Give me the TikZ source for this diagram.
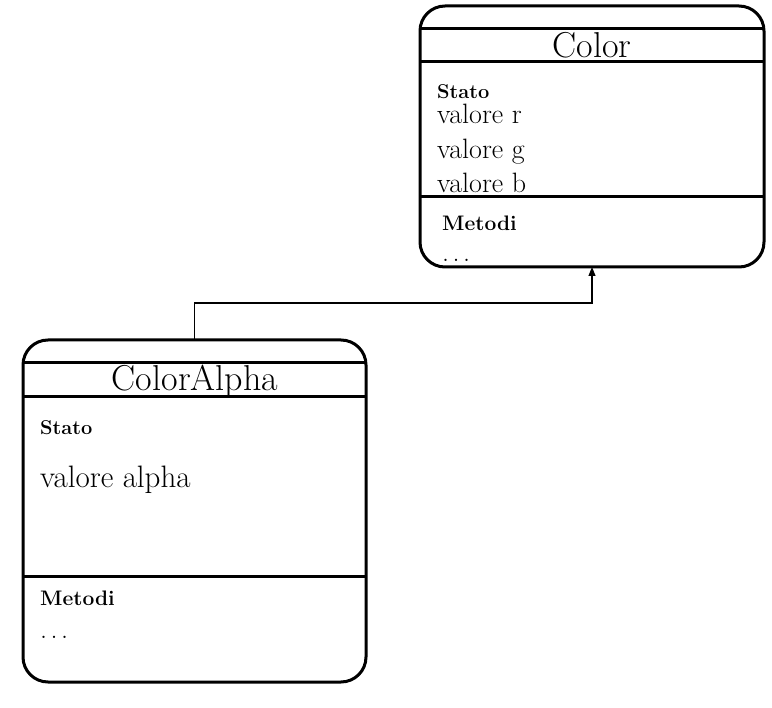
\documentclass[tikz,border=0pt]{standalone}
\usetikzlibrary{arrows.meta}
\begin{document}
\begin{tikzpicture}[x=1pt,y=-1pt,
  classbox/.style={draw, line width=3pt, rounded corners=25pt, inner sep=0pt, outer sep=0pt},
  sep/.style={line width=3pt},
  title/.style={anchor=base, inner sep=0pt, font=\fontsize{36}{40}\selectfont},
  sect/.style={anchor=base west, inner sep=0pt, font=\fontsize{20}{24}\selectfont\bfseries},
  attr/.style={anchor=base west, inner sep=0pt, font=\fontsize{28}{32}\selectfont},
  conn/.style={line width=1.1pt, -{Triangle[length=9pt,width=7pt]}}
]
\newcommand{\mydots}{.\hspace{3.5pt}.\hspace{3.5pt}.}
\useasboundingbox (0,0) rectangle (772,708);
% Color box
\node[classbox, minimum width=344pt, minimum height=261pt] (color) at (592,136.5) {};
\draw[sep] (420,29) -- (764,29);
\draw[sep] (420,62) -- (764,62);
\draw[sep] (420,197) -- (764,197);
\node[title] (ctitle) at (592,58) {Color};
\node[sect] (cstato) at (437,99) {Stato};
\node[attr] (cr) at (437,124) {valore r};
\node[attr] (cg) at (437,159) {valore g};
\node[attr] (cb) at (437,193) {valore b};
\node[sect, font=\fontsize{21}{24}\selectfont\bfseries] (cmet) at (442,231) {Metodi};
\node[attr] (cdots) at (442,262) {\mydots};
% ColorAlpha box
\node[classbox, minimum width=343pt, minimum height=342pt] (ca) at (194.5,511) {};
\draw[sep] (23,363) -- (366,363);
\draw[sep] (23,397) -- (366,397);
\draw[sep] (23,577) -- (366,577);
\node[title] (catitle) at (195,391) {ColorAlpha};
\node[sect] (castato) at (40,435) {Stato};
\node[attr, font=\fontsize{31}{34}\selectfont] (caalpha) at (40,488) {valore alpha};
\node[sect, font=\fontsize{21}{24}\selectfont\bfseries] (camet) at (40,606) {Metodi};
\node[attr] (cadots) at (40,638) {\mydots};
% inheritance connector
\draw[conn] (ca.north) -- ++(0,-37) -| (color.south);
\end{tikzpicture}
\end{document}
